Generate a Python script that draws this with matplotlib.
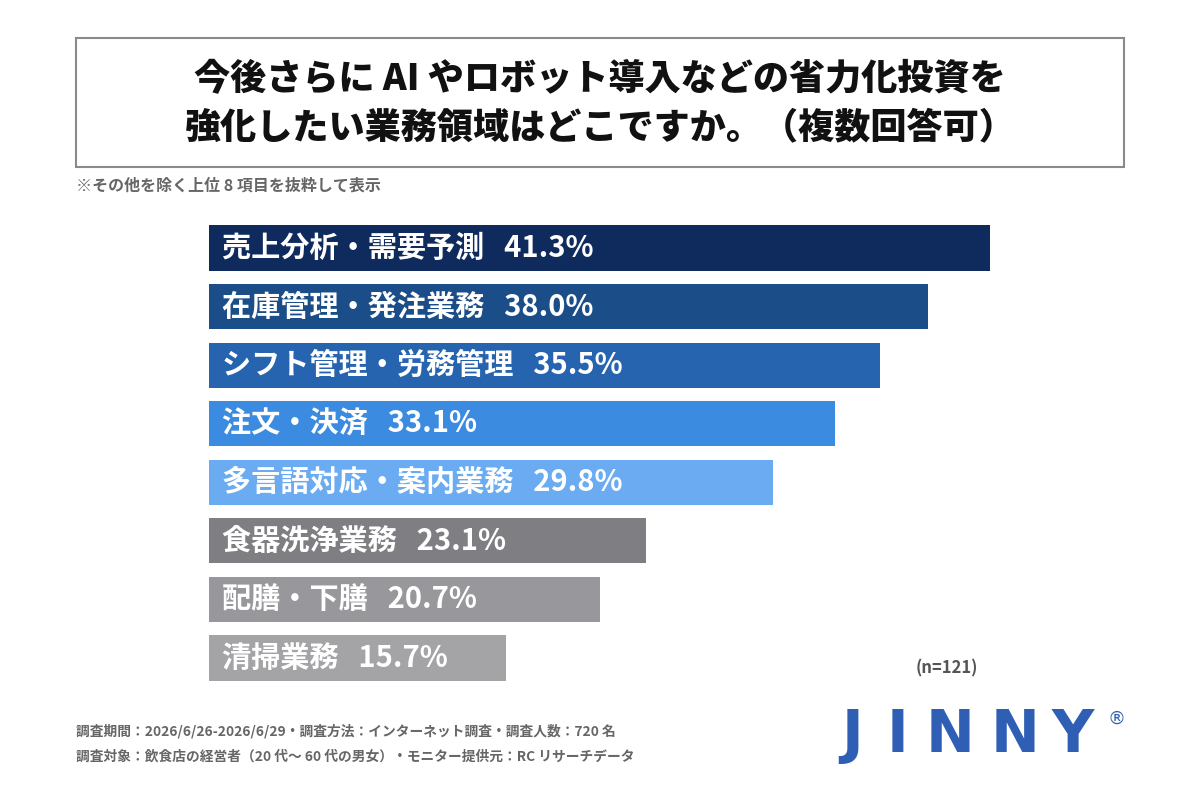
import matplotlib
matplotlib.use("Agg")
import matplotlib.pyplot as plt
from matplotlib.patches import Rectangle

plt.rcParams['font.family'] = ['Noto Sans CJK JP', 'DejaVu Sans']

# データ
labels = ["売上分析・需要予測", "在庫管理・発注業務", "シフト管理・労務管理", "注文・決済",
          "多言語対応・案内業務", "食器洗浄業務", "配膳・下膳", "清掃業務"]
values = [41.3, 38.0, 35.5, 33.1, 29.8, 23.1, 20.7, 15.7]
colors = ["#0f2b5e", "#1b4d88", "#2764b0", "#3b8be0", "#6aabf2",
          "#7f7e82", "#98979b", "#a4a3a6"]

title = "今後さらに AI やロボット導入などの省力化投資を\n強化したい業務領域はどこですか。（複数回答可）"
note = "※その他を除く上位 8 項目を抜粋して表示"
footer1 = "調査期間：2026/6/26-2026/6/29・調査方法：インターネット調査・調査人数：720 名"
footer2 = "調査対象：飲食店の経営者（20 代～ 60 代の男女）・モニター提供元：RC リサーチデータ"
n_text = "(n=121)"
logo = "JINNY"

fig = plt.figure(figsize=(12, 8), dpi=100)
fig.patch.set_facecolor("white")

# タイトル枠
fig.patches.append(Rectangle((76/1200, 1-167/800), 1048/1200, 129/800,
                             transform=fig.transFigure, fill=False,
                             edgecolor="#8a8a8a", linewidth=1.5))
fig.text(0.5, 1-103/800, title, ha="center", va="center", fontsize=26,
         fontweight="black", color="#111111", linespacing=1.4)
fig.text(76/1200, 1-186/800, note, ha="left", va="center", fontsize=11.5,
         fontweight="bold", color="#666666")

# 棒グラフ
px_per = (990-209)/41.3
ax_left, ax_right = 209, 1150
ax = fig.add_axes([ax_left/1200, (800-687.3)/800, (ax_right-ax_left)/1200, 468.6/800])
y = list(range(len(values)))
ax.barh(y, values, height=0.77, color=colors)
ax.set_xlim(0, (ax_right-ax_left)/px_per)
ax.set_ylim(len(values)-0.5, -0.5)
ax.axis("off")
for i, (lab, v) in enumerate(zip(labels, values)):
    ax.annotate(f"{lab}   {v:.1f}%", (0, i), xytext=(13, 0), textcoords="offset pixels",
                ha="left", va="center", fontsize=21, fontweight="bold", color="white")

fig.text(947/1200, 1-668/800, n_text, ha="center", va="center", fontsize=12,
         fontweight="bold", color="#555555")

# フッター
fig.text(76/1200, 1-731/800, footer1, ha="left", va="center", fontsize=9.9,
         fontweight="bold", color="#666666")
fig.text(76/1200, 1-756/800, footer2, ha="left", va="center", fontsize=9.9,
         fontweight="bold", color="#666666")

# ロゴ（文字ごとに配置して横長に）
logo_x = [852, 898, 950, 1015, 1073]
for ch, lx in zip(logo, logo_x):
    fig.text(lx/1200, 1-736/800, ch, ha="center", va="center", fontsize=42,
             fontweight="heavy", color="#2f5fb5", family=["DejaVu Sans"])
fig.text(1116/1200, 1-719/800, "®", ha="center", va="center", fontsize=13,
         color="#2f5fb5", family=["DejaVu Sans"])

fig.savefig("out.png", dpi=100, facecolor="white")
